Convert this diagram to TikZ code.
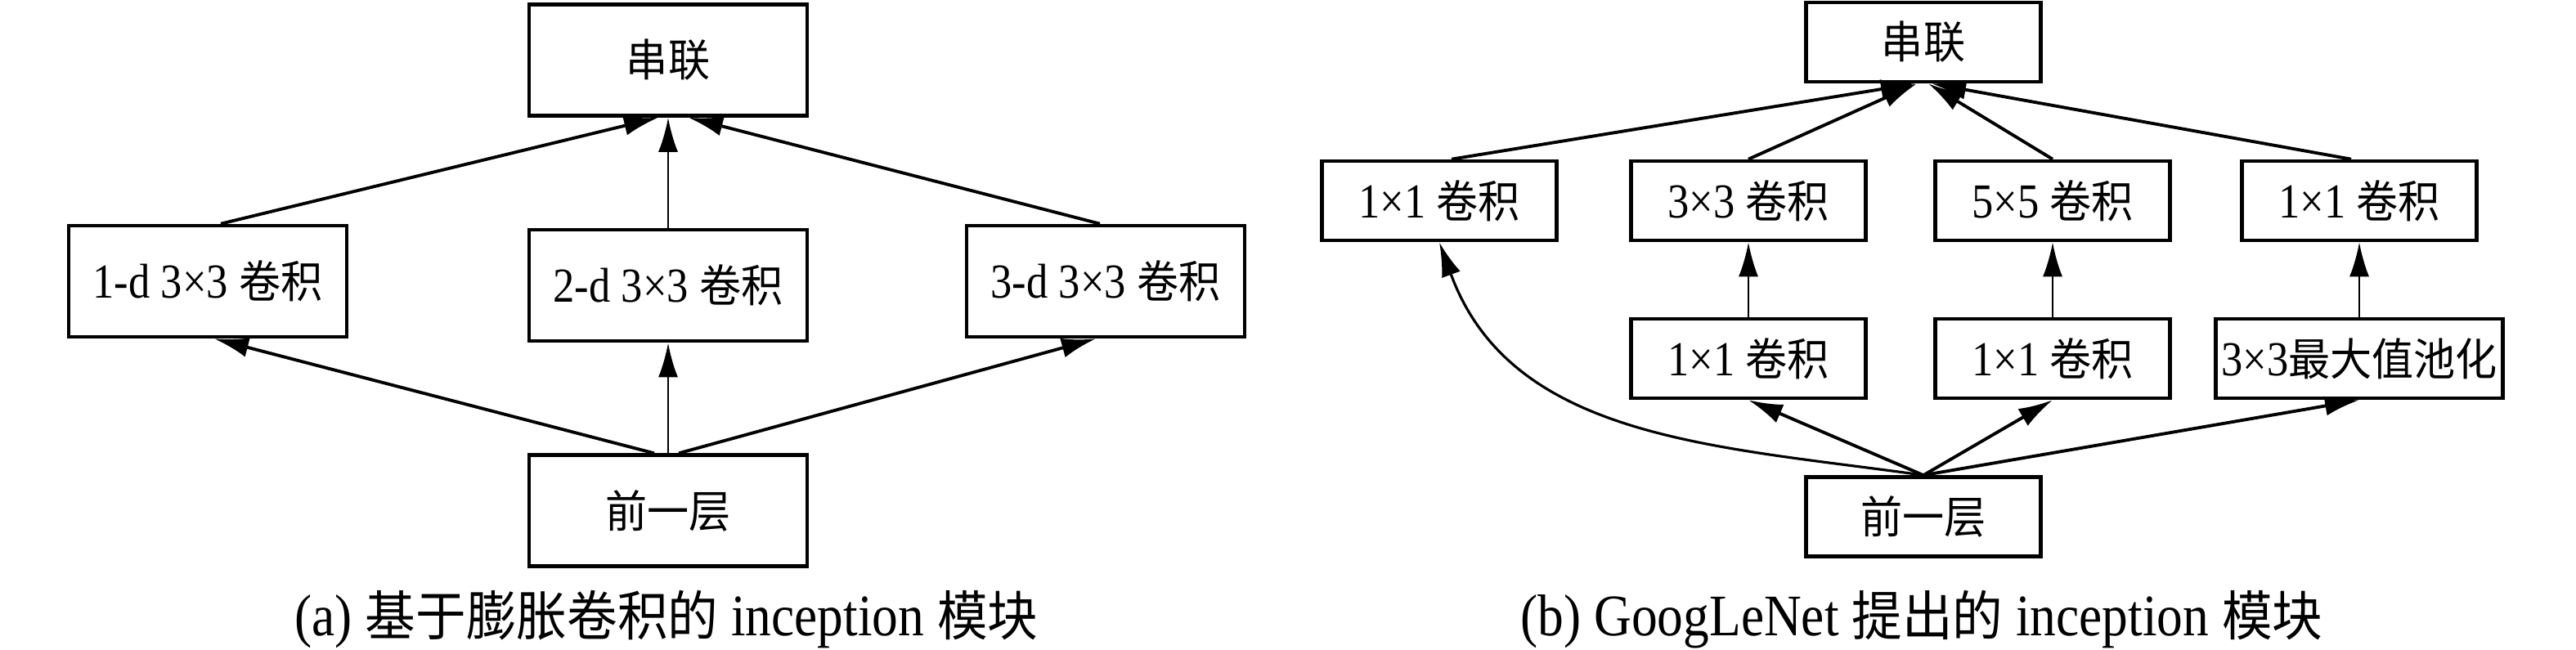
\documentclass[tikz,border=0pt]{standalone}
\usepackage{fontspec}
\setmainfont{Liberation Serif}[FakeStretch=0.88]
\newfontfamily\cjk{Noto Sans CJK SC}[Scale=0.91, FakeStretch=0.94]
\usepackage{tikz}
\usetikzlibrary{positioning, calc}
\usetikzlibrary{arrows.meta}

\newcommand{\boxfont}{\fontsize{17pt}{20pt}\selectfont}
\newcommand{\capfont}{\fontsize{20.5pt}{24pt}\selectfont}

\begin{document}
\begin{tikzpicture}
    [flow/.style={draw,-{Latex[length=4.2mm,width=2.4mm]}, line width=1.1pt},
    flowv/.style={flow, line width=0.8pt},
    blk/.style={rectangle, draw, line width=1.3pt, inner sep=0pt, minimum width=3.4cm, minimum height=1.36cm, font=\boxfont},
    sblk/.style={blk, minimum width=2.87cm, minimum height=0.97cm}]
    \useasboundingbox (0,0) rectangle (31.5,-7.95);
    % (a) dilated convolutions
    \node [blk] (ConcatA) at (8.17,-0.735) {\cjk 串联};
    \node [blk, below=1.35cm of ConcatA] (DilTwo) {2-d 3×3 {\cjk 卷积}};
    \node [blk] (DilOne) at (2.54,-3.44) {1-d 3×3 {\cjk 卷积}};
    \node [blk] (DilThree) at (13.52,-3.44) {3-d 3×3 {\cjk 卷积}};
    \node [blk, below=1.35cm of DilTwo] (PrevA) {\cjk 前一层};
    \node [font=\capfont] (CaptionA) at (8.15,-7.58) {(a) {\cjk 基于膨胀卷积的} inception {\cjk 模块}};
    \draw[flow] ([xshift=0.16cm]DilOne.north) -- ([xshift=-0.12cm]ConcatA.south);
    \draw[flowv] (DilTwo) -- (ConcatA);
    \draw[flow] ([xshift=-0.07cm]DilThree.north) -- ([xshift=0.25cm]ConcatA.south);
    \draw[flow] ([xshift=-0.17cm]PrevA.north) -- ([xshift=0.08cm]DilOne.south);
    \draw[flowv] (PrevA) -- (DilTwo);
    \draw[flow] ([xshift=0.13cm]PrevA.north) -- ([xshift=-0.12cm]DilThree.south);
    % (b) GoogLeNet
    \node [sblk] (ConcatB) at (23.52,-0.515) {\cjk 串联};
    \node [sblk] (ConvOne) at (17.6,-2.455) {1×1 {\cjk 卷积}};
    \node [sblk] (ConvThree) at (21.38,-2.455) {3×3 {\cjk 卷积}};
    \node [sblk] (ConvFive) at (25.1,-2.455) {5×5 {\cjk 卷积}};
    \node [sblk] (PoolConv) at (28.85,-2.455) {1×1 {\cjk 卷积}};
    \node [sblk] (RedThree) at (21.38,-4.385) {1×1 {\cjk 卷积}};
    \node [sblk] (RedFive) at (25.1,-4.385) {1×1 {\cjk 卷积}};
    \node [sblk, minimum width=3.51cm] (Pool) at (28.85,-4.385) {3×3{\cjk 最大值池化}};
    \node [sblk] (PrevB) at (23.52,-6.32) {\cjk 前一层};
    \node [font=\capfont] (CaptionB) at (23.5,-7.58) {(b) GoogLeNet {\cjk 提出的} inception {\cjk 模块}};
    \draw[flow] ([xshift=0.15cm]ConvOne.north) -- ([xshift=-0.1cm]ConcatB.south);
    \draw[flow] (ConvThree.north) -- ([xshift=-0.08cm]ConcatB.south);
    \draw[flow] (ConvFive.north) -- ([xshift=0.06cm]ConcatB.south);
    \draw[flow] ([xshift=-0.1cm]PoolConv.north) -- ([xshift=0.1cm]ConcatB.south);
    \draw[flowv] (RedThree) -- (ConvThree);
    \draw[flowv] (RedFive) -- (ConvFive);
    \draw[flowv] (Pool) -- (PoolConv);
    \draw[flow] (PrevB.north) -- (RedThree.south);
    \draw[flow] (PrevB.north) -- (RedFive.south);
    \draw[flow] (PrevB.north) -- (Pool.south);
    \draw[flow, line width=0.9pt] (PrevB.north) to[out=172, in=-70] (ConvOne.south);
\end{tikzpicture}
\end{document}
